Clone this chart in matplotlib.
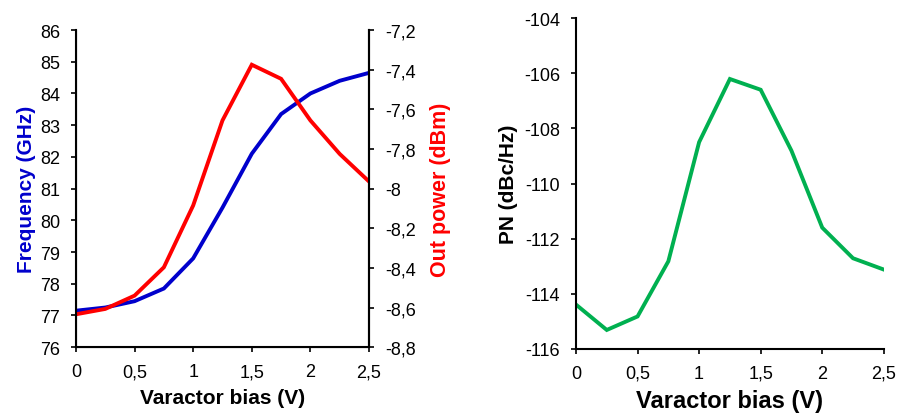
import matplotlib.pyplot as plt
from matplotlib.ticker import FuncFormatter, MultipleLocator

plt.rcParams['font.family'] = ['Liberation Sans', 'DejaVu Sans']

# Data
bias = [0, 0.25, 0.5, 0.75, 1.0, 1.25, 1.5, 1.75, 2.0, 2.25, 2.5]
freq_ghz = [77.15, 77.25, 77.45, 77.85, 78.8, 80.4, 82.1, 83.35, 84.0, 84.4, 84.65]
out_power_dbm = [-8.634, -8.607, -8.54, -8.397, -8.085, -7.656, -7.375, -7.446, -7.656, -7.825, -7.964]
pn_dbc = [-114.39, -115.31, -114.82, -112.82, -108.5, -106.21, -106.6, -108.81, -111.6, -112.71, -113.12]


def comma_fmt(v, pos):
    s = ('%g' % round(v, 6))
    return s.replace('.', ',')


fmt = FuncFormatter(comma_fmt)
tick_kw = dict(direction='out', length=3.5, width=1.2, labelsize=13, colors='black')

fig = plt.figure(figsize=(9, 4.14), dpi=100)

# Left panel: frequency + output power
ax1 = fig.add_axes([0.0844, 0.159, 0.3256, 0.766])
ax1.plot(bias, freq_ghz, color='#0000cc', lw=2.8, solid_joinstyle='miter')
ax1.set_xlim(0, 2.5)
ax1.set_ylim(76, 86)
ax1.xaxis.set_major_locator(MultipleLocator(0.5))
ax1.yaxis.set_major_locator(MultipleLocator(1))
ax1.xaxis.set_major_formatter(fmt)
ax1.yaxis.set_major_formatter(fmt)
ax1.tick_params(pad=8, **tick_kw)
ax1.spines['top'].set_visible(False)
for s in ['left', 'bottom', 'right']:
    ax1.spines[s].set_linewidth(1.5)
ax1.set_xlabel('Varactor bias (V)', fontsize=15, fontweight='bold', labelpad=6)
ax1.set_ylabel('Frequency (GHz)', fontsize=15, fontweight='bold', color='#0000cc', labelpad=3)

ax2 = ax1.twinx()
ax2.plot(bias, out_power_dbm, color='#ff0000', lw=2.8, solid_joinstyle='miter')
ax2.set_ylim(-8.8, -7.2)
ax2.yaxis.set_major_locator(MultipleLocator(0.2))
ax2.yaxis.set_major_formatter(fmt)
ax2.tick_params(pad=8, **tick_kw)
ax2.spines['top'].set_visible(False)
ax2.spines['right'].set_linewidth(1.5)
ax2.set_ylabel('Out power (dBm)', fontsize=15.5, fontweight='bold', color='#ff0000', labelpad=10)

# Right panel: phase noise
ax3 = fig.add_axes([0.64, 0.1546, 0.342, 0.7994])
ax3.plot(bias, pn_dbc, color='#00b050', lw=2.8, solid_joinstyle='miter')
ax3.set_xlim(0, 2.5)
ax3.set_ylim(-116, -104)
ax3.xaxis.set_major_locator(MultipleLocator(0.5))
ax3.yaxis.set_major_locator(MultipleLocator(2))
ax3.xaxis.set_major_formatter(fmt)
ax3.yaxis.set_major_formatter(fmt)
ax3.tick_params(pad=8, **tick_kw)
ax3.spines['top'].set_visible(False)
ax3.spines['right'].set_visible(False)
for s in ['left', 'bottom']:
    ax3.spines[s].set_linewidth(1.5)
ax3.set_xlabel('Varactor bias (V)', fontsize=17, fontweight='bold', labelpad=5)
ax3.set_ylabel('PN (dBc/Hz)', fontsize=15, fontweight='bold', labelpad=4)

fig.savefig('out.png', dpi=100)
